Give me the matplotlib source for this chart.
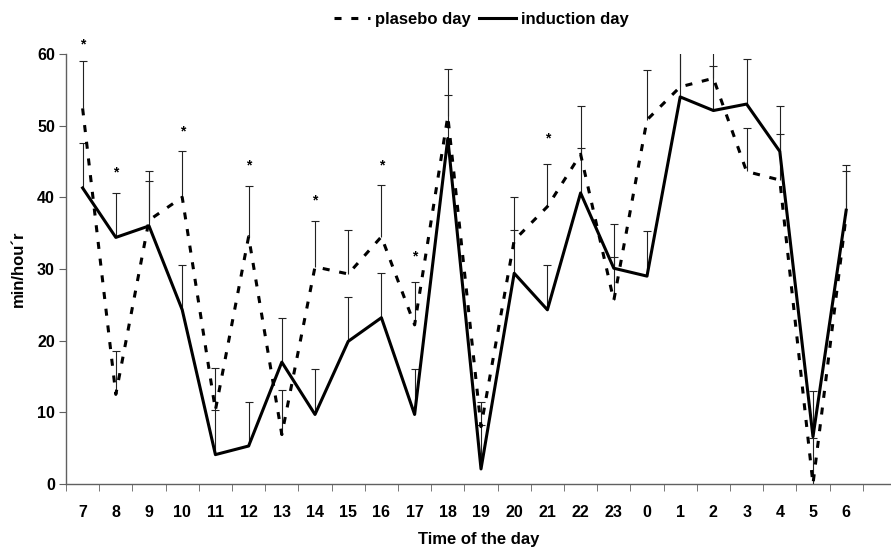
import matplotlib.pyplot as plt
import numpy as np

plt.rcParams['font.family'] = ['Liberation Sans', 'DejaVu Sans']
plt.rcParams['font.weight'] = 'bold'

# hours of the day, 7 in the morning to 6 next morning
hours = ['7', '8', '9', '10', '11', '12', '13', '14', '15', '16', '17', '18',
         '19', '20', '21', '22', '23', '0', '1', '2', '3', '4', '5', '6']

placebo = [52.4, 12.5, 36.8, 40.0, 10.3, 34.5, 6.9, 30.3, 29.3, 34.5, 22.2, 51.3,
           8.0, 34.0, 38.7, 46.0, 25.6, 50.8, 55.4, 56.6, 43.6, 42.4, 0.0, 37.5]
placebo_top = [59.0, 18.6, 43.7, 46.4, 16.2, 41.6, 13.1, 36.7, 35.4, 41.7, 28.2, 57.9,
               11.4, 40.0, 44.7, 52.8, 31.7, 57.8, 62.0, 62.0, 49.7, 48.8, 6.4, 43.7]

induction = [41.3, 34.4, 36.0, 24.3, 4.1, 5.3, 17.0, 9.7, 19.9, 23.2, 9.7, 48.2,
             2.1, 29.4, 24.3, 40.6, 30.1, 29.0, 54.0, 52.1, 53.0, 46.4, 6.6, 38.2]
induction_top = [47.6, 40.6, 42.3, 30.6, 10.3, 11.5, 23.2, 16.0, 26.1, 29.5, 16.1, 54.2,
                 8.3, 35.5, 30.5, 46.9, 36.3, 35.3, 62.0, 58.3, 59.3, 52.7, 13.0, 44.5]

# significance marks (category index, height)
star_idx = [0, 1, 3, 5, 7, 9, 10, 14]
star_y = [61.3, 43.4, 49.2, 44.4, 39.6, 44.4, 31.7, 48.2]

x = np.arange(len(hours))
placebo = np.array(placebo)
induction = np.array(induction)

fig = plt.figure(figsize=(8.91, 5.5), dpi=100)
ax = fig.add_axes([0.0741, 0.12, 0.9259, 0.782])

# error bars, upward only (hide the lower caps)
for vals, tops in [(placebo, placebo_top), (induction, induction_top)]:
    eb = ax.errorbar(x, vals, yerr=[np.zeros(len(x)), np.array(tops) - vals],
                     fmt='none', ecolor='#222222', elinewidth=0.8, capsize=3,
                     capthick=0.8, zorder=2)
    eb[1][0].set_visible(False)

ax.plot(x, placebo, color='black', lw=2.2, dashes=(2.3, 3.2), dash_capstyle='butt',
        label='plasebo day', zorder=3)
ax.plot(x, induction, color='black', lw=2.2, label='induction day', zorder=3)

for i, yy in zip(star_idx, star_y):
    ax.text(i, yy, '*', ha='center', va='center', fontsize=10, clip_on=False)

ax.set_xlim(-0.5, 24.35)
ax.set_ylim(0, 60)
ax.set_yticks(np.arange(0, 61, 10))
ax.set_xticks(x)
ax.set_xticklabels(hours)
ax.set_xticks(np.arange(-0.5, 24, 1), minor=True)
ax.tick_params(axis='x', which='major', length=0, pad=15, labelsize=11.5)
ax.tick_params(axis='x', which='minor', length=5, color='#606060', direction='out')
ax.tick_params(axis='y', length=5, pad=3, labelsize=11.5, color='#606060')

for s in ['top', 'right']:
    ax.spines[s].set_visible(False)
for s in ['left', 'bottom']:
    ax.spines[s].set_color('#606060')
    ax.spines[s].set_linewidth(1)

ax.set_xlabel('Time of the day', fontsize=12, fontweight='bold', labelpad=9)
ax.set_ylabel('min/hou\u00b4r', fontsize=12, fontweight='bold', labelpad=8)

fig.legend(loc='upper center', bbox_to_anchor=(0.54, 1.005), ncol=2, frameon=False,
           fontsize=12, handlelength=2.2, handletextpad=0.3, columnspacing=0.5)

fig.savefig('out.png', dpi=100)
